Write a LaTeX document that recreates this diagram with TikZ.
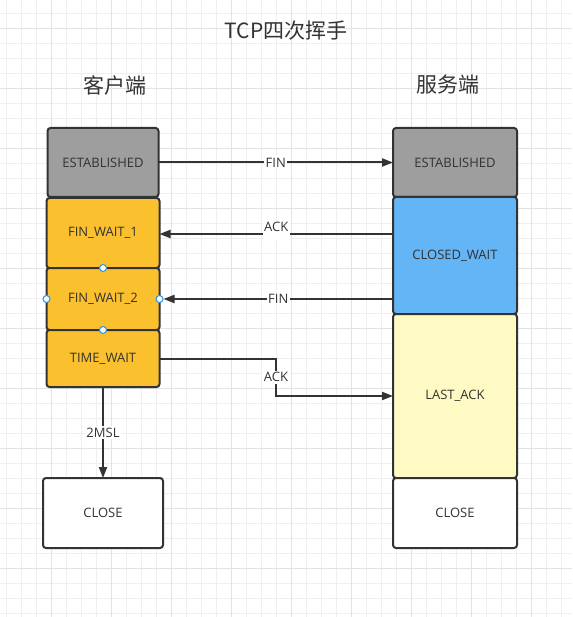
\documentclass[tikz,border=0pt]{standalone}
\usepackage{fontspec}
\setmainfont{Open Sans}
\newfontfamily\cjk{Noto Sans CJK SC}
\usetikzlibrary{arrows.meta}
\definecolor{ink}{HTML}{333333}
\definecolor{gridminor}{HTML}{EFEFEF}
\definecolor{gridmajor}{HTML}{E3E3E3}
\definecolor{greyfill}{HTML}{9E9E9E}
\definecolor{orangefill}{HTML}{FBC02D}
\definecolor{bluefill}{HTML}{64B5F6}
\definecolor{yellowfill}{HTML}{FFF9C4}
\definecolor{handle}{HTML}{2196F3}
\tikzset{
  statebox/.style={draw=ink, line width=2pt, rounded corners=3pt, text=ink,
    font=\fontsize{13}{15}\selectfont, inner sep=0pt, outer sep=0pt},
  arr/.style={draw=ink, line width=2pt, -{Triangle[length=11pt,width=8pt]}},
  lbl/.style={fill=white, text=ink, inner sep=1.5pt, font=\fontsize{13}{15}\selectfont},
  hnd/.style={circle, draw=handle, fill=white, line width=1pt, minimum size=7pt, inner sep=0pt},
  heading/.style={text=ink, font=\cjk\fontsize{21}{24}\selectfont}
}
\begin{document}
\begin{tikzpicture}[x=1pt,y=-1pt]
\useasboundingbox (0,0) rectangle (572,617);
\fill[white] (0,0) rectangle (572,617);
% grid
\foreach \i in {0,...,37} {\draw[gridminor, line width=1pt] ({6.67+15*\i},0) -- ({6.67+15*\i},617);}
\foreach \j in {0,...,40} {\draw[gridminor, line width=1pt] (0,{13.33+15*\j}) -- (572,{13.33+15*\j});}
\foreach \i in {3,7,...,37} {\draw[gridmajor, line width=1pt] ({6.67+15*\i},0) -- ({6.67+15*\i},617);}
\foreach \j in {1,5,...,40} {\draw[gridmajor, line width=1pt] (0,{13.33+15*\j}) -- (572,{13.33+15*\j});}

% headings
\node[heading] (title) at (286,31) {TCP四次挥手};
\node[heading] (client) at (115,85) {客户端};
\node[heading] (server) at (448,85) {服务端};

% client column
\node[statebox, fill=greyfill, minimum width=111pt, minimum height=69pt] (LE) at (103,162.5) {ESTABLISHED};
\node[statebox, fill=orangefill, minimum width=113pt, minimum height=70pt] (FW1) at (103,233) {FIN\_WAIT\_1};
\node[statebox, fill=orangefill, minimum width=113pt, minimum height=62pt] (FW2) at (103,299) {FIN\_WAIT\_2};
\node[statebox, fill=orangefill, minimum width=113pt, minimum height=57pt] (TW) at (103,358.5) {TIME\_WAIT};
\node[statebox, fill=white, minimum width=120pt, minimum height=70pt] (LC) at (103,513) {CLOSE};

% server column
\node[statebox, fill=greyfill, minimum width=124pt, minimum height=69pt] (RE) at (455,162.5) {ESTABLISHED};
\node[statebox, fill=bluefill, minimum width=124pt, minimum height=117pt] (CW) at (455,255.5) {CLOSED\_WAIT};
\node[statebox, fill=yellowfill, minimum width=124pt, minimum height=164pt] (LA) at (455,396) {LAST\_ACK};
\node[statebox, fill=white, minimum width=124pt, minimum height=70pt] (RC) at (455,513) {CLOSE};

% selection handles
\node[hnd] (h1) at (FW2.north) {};
\node[hnd] (h2) at (FW2.south) {};
\node[hnd] (h3) at (FW2.west) {};
\node[hnd] (h4) at (FW2.east) {};

% connectors
\coordinate (bend) at (276,0);
\draw[arr] (LE.east) -- node[lbl] {FIN} (RE.west);
\draw[arr] (CW.west |- 0,234) -- node[lbl, text depth=6pt, inner ysep=2pt, yshift=4pt] {ACK} (FW1.east |- 0,234);
\draw[arr] (CW.west |- FW2.east) -- node[lbl] {FIN} (h4);
\draw[arr] (TW.east) -- (TW.east -| bend) |- node[lbl, pos=0.25] {ACK} (LA.west);
\draw[arr] (TW.south) -- node[lbl] {2MSL} (LC.north);
\end{tikzpicture}
\end{document}
